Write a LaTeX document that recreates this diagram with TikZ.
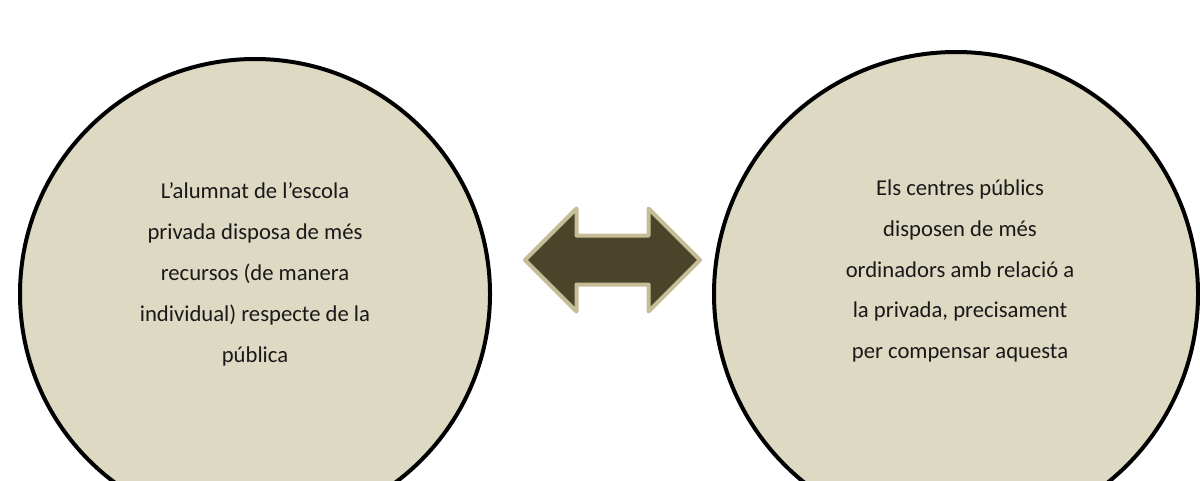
\documentclass[tikz,border=0pt]{standalone}
\usepackage{fontspec}
\setmainfont{Carlito}
\definecolor{circlefill}{HTML}{DDD9C3}
\definecolor{arrowfill}{HTML}{4A452A}
\definecolor{arrowline}{HTML}{C4BD97}
\tikzset{
  opinion/.style={circle,draw=black,line width=0.08cm,fill=circlefill,inner sep=0pt},
  opiniontext/.style={align=center,text=black!90,font=\fontsize{12.9}{23.3}\selectfont},
  versus/.style={fill=arrowfill,draw=arrowline,line width=0.08cm,line join=round}
}
\begin{document}
\begin{tikzpicture}
\useasboundingbox (0,0) rectangle (24,9.6);
\node[opinion,minimum size=9.40cm] (privada) at (5.10,3.72) {};
\node[opinion,minimum size=9.68cm] (publica) at (19.12,3.72) {};
% double arrow between the two circles
\draw[versus] (10.50,4.40) -- (11.53,5.43) -- (11.53,4.89) -- (12.97,4.89) -- (12.97,5.43)
  -- (14.00,4.40) -- (12.97,3.37) -- (12.97,3.91) -- (11.53,3.91) -- (11.53,3.37) -- cycle;
\node[opiniontext] (privadatext) at (5.10,4.12) {L’alumnat de l’escola\\privada disposa de més\\recursos (de manera\\individual) respecte de la\\pública};
\node[opiniontext] (publicatext) at (19.20,4.18) {Els centres públics\\disposen de més\\ordinadors amb relació a\\la privada, precisament\\per compensar aquesta};
\end{tikzpicture}
\end{document}
